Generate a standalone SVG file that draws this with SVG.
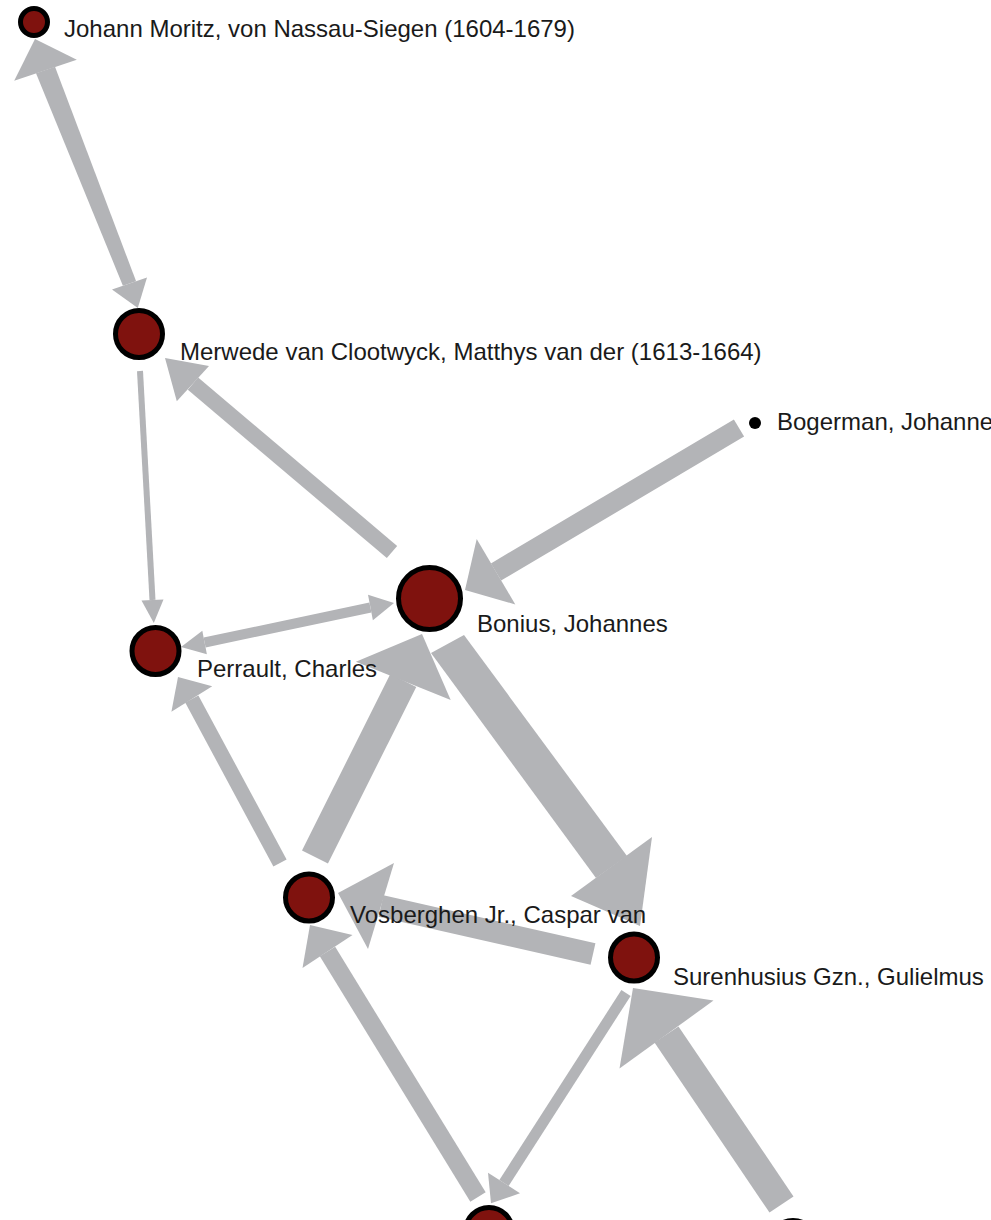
<svg xmlns="http://www.w3.org/2000/svg" width="991" height="1220" viewBox="0 0 991 1220">
<style>
.e{stroke:#b3b4b7;stroke-linecap:butt;fill:none}
.h{fill:#b3b4b7}
.n{fill:#7f120e;stroke:#000;stroke-width:5}
.t{font-family:"Liberation Sans",Arial,sans-serif;font-size:24px;fill:#1a1a1a}
</style>
<rect width="991" height="1220" fill="#fff"/>
<g id="edges">
<polygon class="h" points="55,66.8 36,73.2 122.9,285.7 136.1,281.3"/>
<polygon class="h" points="35,39 76.8,59.8 14.2,80.8"/>
<polygon class="h" points="137.8,308.1 147,277.6 112,289.4"/>
<line class="e" x1="140" y1="371" x2="152.5" y2="600" stroke-width="6"/>
<polygon class="h" points="153.8,623 163.5,599.4 141.5,600.6"/>
<line class="e" x1="392" y1="552" x2="193" y2="383.6" stroke-width="16"/>
<polygon class="h" points="165,358 209,365.9 176.8,401.3"/>
<line class="e" x1="739" y1="428" x2="496" y2="572" stroke-width="20"/>
<polygon class="h" points="465,590 515.3,604.4 476.7,539"/>
<line class="e" x1="204.6" y1="642.5" x2="370.4" y2="607.5" stroke-width="10"/>
<polygon class="h" points="394,603 372.9,620.3 368,594.7"/>
<polygon class="h" points="181,647 206.9,654.3 202.3,630.7"/>
<line class="e" x1="280" y1="863" x2="191.8" y2="699" stroke-width="15"/>
<polygon class="h" points="178,677 212.2,686.3 171.4,711.7"/>
<line class="e" x1="315" y1="857" x2="403.3" y2="680.4" stroke-width="29"/>
<polygon class="h" points="422,634 450.7,700.1 355.9,661.7"/>
<polygon class="h" points="431,653 464,635 627,856 596,878"/>
<polygon class="h" points="640,926 652,837 571,896"/>
<line class="e" x1="593" y1="954" x2="381" y2="906" stroke-width="22"/>
<polygon class="h" points="338,893 394,863 368,949"/>
<line class="e" x1="626" y1="993" x2="504" y2="1183" stroke-width="11"/>
<polygon class="h" points="491,1203.2 520,1193.3 488,1172.7"/>
<line class="e" x1="478" y1="1197" x2="327.5" y2="951.5" stroke-width="18"/>
<polygon class="h" points="310,925 352.5,935 302.5,968"/>
<line class="e" x1="781.5" y1="1204.5" x2="666.5" y2="1034.5" stroke-width="29"/>
<polygon class="h" points="633,988 713.5,1000.6 619.5,1068.4"/>
</g>
<g id="node-johann"><circle class="n" cx="34" cy="22" r="13.5"/><text class="t" x="64" y="37">Johann Moritz, von Nassau-Siegen (1604-1679)</text></g>
<g id="node-merwede"><circle class="n" cx="139" cy="334" r="23.5"/><text class="t" x="180" y="360">Merwede van Clootwyck, Matthys van der (1613-1664)</text></g>
<g id="node-bogerman"><circle cx="755" cy="423" r="6" fill="#000"/><text class="t" x="777" y="430">Bogerman, Johanne</text></g>
<g id="node-bonius"><circle class="n" cx="429.5" cy="598.5" r="31"/><text class="t" x="477" y="632">Bonius, Johannes</text></g>
<g id="node-perrault"><circle class="n" cx="155.5" cy="651" r="23.5"/><text class="t" x="197" y="677">Perrault, Charles</text></g>
<g id="node-vosberghen"><circle class="n" cx="309" cy="897.5" r="23.5"/><text class="t" x="350" y="923">Vosberghen Jr., Caspar van</text></g>
<g id="node-surenhusius"><circle class="n" cx="634" cy="957.5" r="23.5"/><text class="t" x="673" y="985">Surenhusius Gzn., Gulielmus</text></g>
<g id="node-bottom1"><circle class="n" cx="489" cy="1231" r="23.5"/></g>
<g id="node-bottom2"><circle class="n" cx="793" cy="1244" r="23.5"/></g>
</svg>
